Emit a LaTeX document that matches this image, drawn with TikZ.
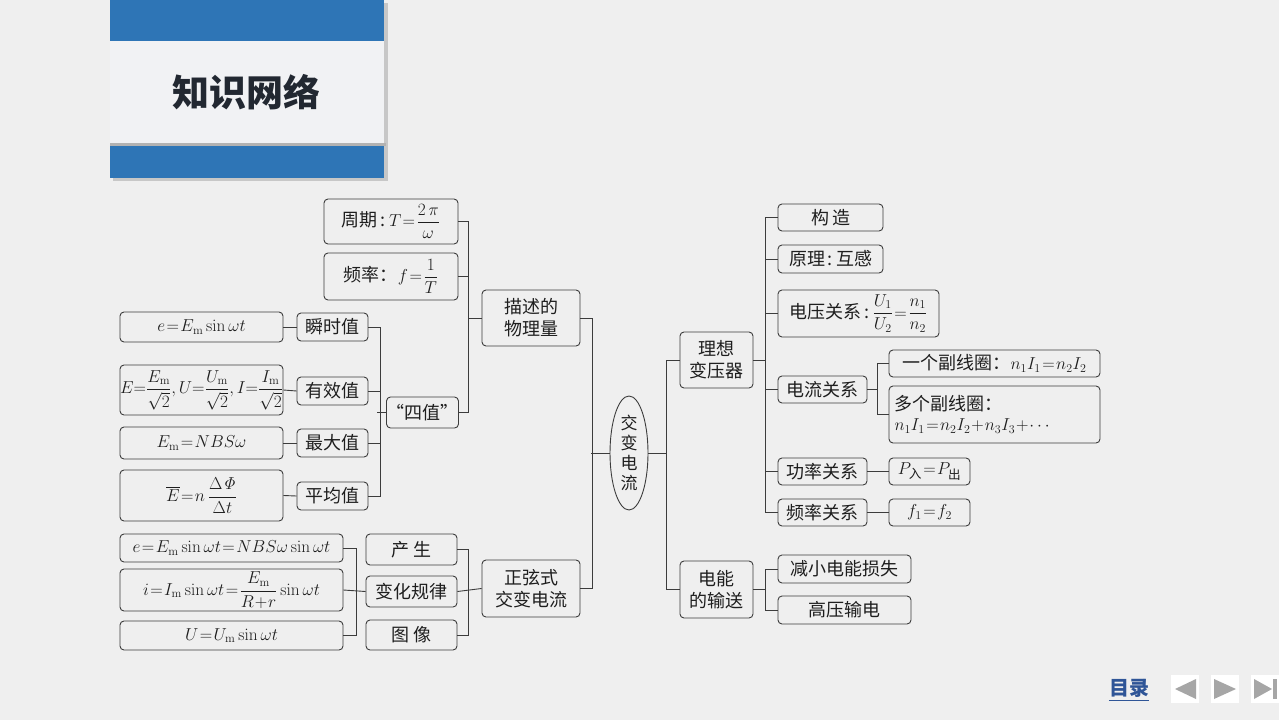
\documentclass[tikz,border=0pt]{standalone}
\usepackage[no-math]{fontspec}
\setmainfont{Noto Sans CJK SC}
\usepackage{amsmath}
\usetikzlibrary{shapes.geometric}
\definecolor{bg}{RGB}{239,239,239}
\definecolor{tblue}{RGB}{46,117,182}
\definecolor{panel}{RGB}{241,242,244}
\definecolor{ln}{RGB}{60,60,60}
\definecolor{tx}{RGB}{30,30,30}
\definecolor{titlec}{RGB}{34,40,49}
\definecolor{navblue}{RGB}{47,85,151}
\definecolor{navgray}{RGB}{166,166,166}
\newcommand\tightmath{\thickmuskip=1.5mu plus 1mu\relax\medmuskip=1mu\relax}
\newcommand\zeromath{\thickmuskip=0mu\relax\medmuskip=0mu\relax}
\tikzset{
  box/.style={draw=ln, line width=0.9pt, rounded corners=4pt, inner sep=0pt, text=tx,
    font=\fontsize{18}{22}\selectfont\tightmath, align=center},
  conn/.style={draw=ln, line width=0.9pt}
}
\newcommand\bx[7][]{\node[box, minimum width={#5-#3}, minimum height={#6-#4}, #1] (#2) at ({(#3+#5)/2},{(#4+#6)/2}) {#7};}
\begin{document}
\begin{tikzpicture}[x=1pt,y=-1pt]
\fill[bg] (0,0) rectangle (1279,720);
\useasboundingbox (0,0) rectangle (1279,720);
% title banner
\fill[black!22] (113,3) rectangle (388,181);
\fill[tblue] (110,0) rectangle (384,41);
\fill[tblue] (110,143) rectangle (384,178);
\fill[black!30] (110,143) rectangle (386,146);
\fill[panel] (110,41) rectangle (384,143);
\node[font=\fontsize{37}{40}\selectfont\bfseries, text=titlec] (title) at (246,92) {知识网络};
% left upper
\bx{zq}{324}{199}{458}{244}{周期\,:\,$T=\dfrac{2\,\pi}{\omega}$}
\bx{pl}{324}{253}{458}{300}{频率：$f=\dfrac{1}{T}$}
\bx{ms}{482}{290}{580}{346}{描述的\\物理量}
\bx{fa}{120}{312}{283}{342}{$e=E_{\mathrm{m}}\sin\omega t$}
\bx{ss}{297}{313}{368}{341}{瞬时值}
\bx[font=\fontsize{17.5}{21}\selectfont\zeromath]{fb}{120}{365}{283}{415}{$E{=}\dfrac{E_{\mathrm{m}}}{\sqrt2},U{=}\dfrac{U_{\mathrm{m}}}{\sqrt2},I{=}\dfrac{I_{\mathrm{m}}}{\sqrt2}$}
\bx{yx}{297}{377}{368}{405}{有效值}
\bx{sz}{389}{397}{456}{428}{“四值”}
\bx{fc}{120}{427}{283}{459}{$E_{\mathrm{m}}=NBS\omega$}
\bx{zd}{297}{429}{368}{457}{最大值}
\bx{fd}{120}{470}{283}{521}{$\overline{E}=n\,\dfrac{\Delta\mathit{\Phi}}{\Delta t}$}
\bx{pj}{297}{482}{368}{510}{平均值}
% left lower
\bx{ga}{120}{534}{343}{562}{$e=E_{\mathrm{m}}\sin\omega t=NBS\omega\sin\omega t$}
\bx{gb}{120}{569}{343}{611}{$i=I_{\mathrm{m}}\sin\omega t=\dfrac{E_{\mathrm{m}}}{R+r}\sin\omega t$}
\bx{gc}{120}{621}{343}{650}{$U=U_{\mathrm{m}}\sin\omega t$}
\bx{cs}{366}{534}{457}{565}{产\hspace{5pt}生}
\bx{bh}{366}{576}{457}{607}{变化规律}
\bx{tx}{366}{620}{457}{650}{图\hspace{5pt}像}
\bx{zx}{482}{560}{580}{617}{正弦式\\交变电流}
% center
\node[ellipse, draw=ln, line width=0.9pt, minimum width=38, minimum height=114, inner sep=0pt,
  text=tx, font=\fontsize{17}{20}\selectfont, align=center] (jb) at (629,453) {交\\变\\电\\流};
% right
\bx{lx}{680}{332}{753}{388}{理想\\变压器}
\bx{gz}{778}{204}{883}{231}{构\hspace{3pt}造}
\bx{yl}{778}{245}{883}{273}{原理\,:\,互感}
\bx{dy}{778}{290}{939}{337}{电压关系\,:\,$\dfrac{U_1}{U_2}=\dfrac{n_1}{n_2}$}
\bx{dl}{778}{376}{867}{403}{电流关系}
\bx{yg}{889}{350}{1100}{377}{一个副线圈：$n_1I_1=n_2I_2$}
\bx[text width=200, inner xsep=5.5, align=left]{dg}{889}{386}{1100}{443}{多个副线圈：\\[-2pt]$n_1I_1=n_2I_2+n_3I_3+\cdots$}
\bx{gl}{778}{458}{867}{485}{功率关系}
\bx{pin}{889}{458}{970}{485}{$P_{\text{入}}=P_{\text{出}}$}
\bx{plgx}{778}{499}{867}{526}{频率关系}
\bx{ff}{889}{499}{970}{526}{$f_1=f_2$}
\bx{dn}{680}{561}{753}{618}{电能\\的输送}
\bx{jx}{778}{555}{911}{583}{减小电能损失}
\bx{gy}{778}{596}{911}{624}{高压输电}
% connectors left
\draw[conn] (zq.east) -- ++(10,0) |- (sz.east);
\draw[conn] (pl.east) -- ++(10,0);
\draw[conn] (ms.west) -- ++(-14,0);
\draw[conn] (ss.east) -- ++(12,0) |- (pj.east);
\draw[conn] (yx.east) -- ++(12,0);
\draw[conn] (zd.east) -- ++(12,0);
\draw[conn] (sz.west) -- ++(-9,0);
\draw[conn] (fa.east) -- (ss.west);
\draw[conn] (fb.east) -- (yx.west);
\draw[conn] (fc.east) -- (zd.west);
\draw[conn] (fd.east) -- (pj.west);
\draw[conn] (ga.east) -- ++(13,0) |- (gc.east);
\draw[conn] (gb.east) -- (bh.west);
\draw[conn] (cs.east) -- ++(11,0) |- (tx.east);
\draw[conn] (bh.east) -- (zx.west);
\draw[conn] (ms.east) -- ++(12,0) |- (zx.east);
\draw[conn] (jb.west) -- ++(-19,0);
% connectors right
\draw[conn] (jb.east) -- ++(19,0);
\draw[conn] (lx.west) -- ++(-13,0) |- (dn.west);
\draw[conn] (gz.west) -- ++(-12,0) |- (plgx.west);
\draw[conn] (lx.east) -- ++(12,0);
\draw[conn] (yl.west) -- ++(-12,0);
\draw[conn] (dy.west) -- ++(-12,0);
\draw[conn] (dl.west) -- ++(-12,0);
\draw[conn] (gl.west) -- ++(-12,0);
\draw[conn] (yg.west) -- ++(-11,0) |- (dg.west);
\draw[conn] (dl.east) -- ++(11,0);
\draw[conn] (gl.east) -- (pin.west);
\draw[conn] (plgx.east) -- (ff.west);
\draw[conn] (jx.west) -- ++(-12,0) |- (gy.west);
\draw[conn] (dn.east) -- ++(12,0);
% navigation
\node[font=\fontsize{20}{22}\selectfont\bfseries, text=navblue, inner sep=0pt] (ml) at (1129,688) {目录};
\draw[navblue, line width=1.5pt] ([yshift=-3pt]ml.south west) -- ([yshift=-3pt]ml.south east);
\fill[white] (1171,675) rectangle (1199,703);
\fill[navgray] (1196,679) -- (1196,699) -- (1175,689) -- cycle;
\fill[white] (1211,675) rectangle (1239,703);
\fill[navgray] (1214,679) -- (1214,699) -- (1236,689) -- cycle;
\fill[white] (1251,675) rectangle (1279,703);
\fill[navgray] (1254,679) -- (1254,699) -- (1272,689) -- cycle;
\fill[navgray] (1273,679) rectangle (1277,699);
\end{tikzpicture}
\end{document}
